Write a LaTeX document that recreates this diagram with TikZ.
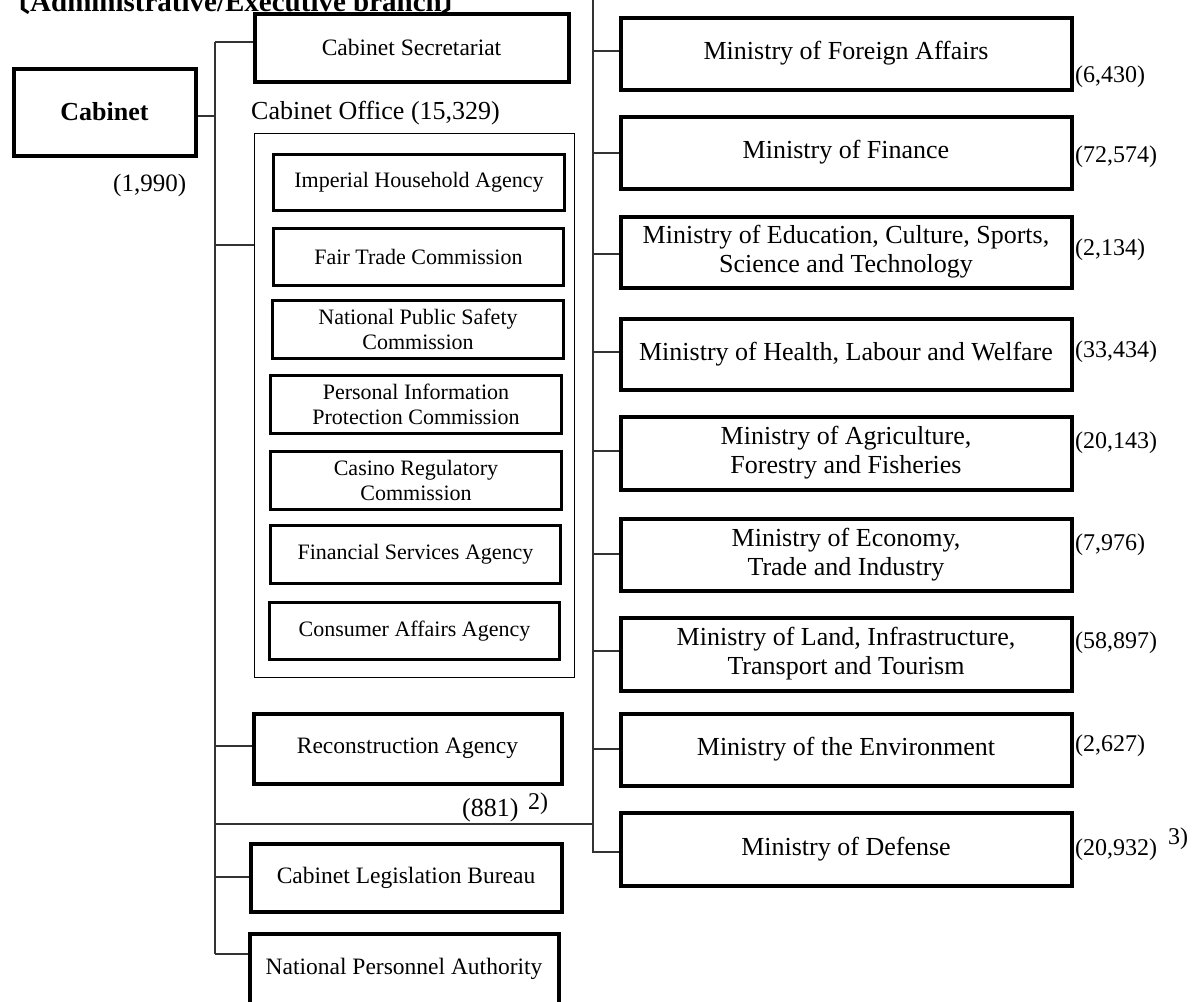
\documentclass[tikz,border=0pt]{standalone}
\usepackage{fontspec}
\setmainfont{Liberation Serif}
\newfontfamily\cjk{Noto Sans CJK JP}
\tikzset{
  box/.style={draw, line width=4pt, inner sep=0pt, align=center, font=\fontsize{23.5}{27}\selectfont},
  inbox/.style={draw, line width=3.6pt, inner sep=0pt, align=center, font=\fontsize{22}{25}\selectfont},
  minbox/.style={draw, line width=4pt, inner sep=0pt, align=center, font=\fontsize{26}{29}\selectfont},
  cabbox/.style={draw, line width=4pt, inner sep=0pt, align=center, font=\fontsize{26}{29}\selectfont\bfseries},
  thinbox/.style={draw, line width=1.3pt, inner sep=0pt},
  conn/.style={line width=1.3pt, draw=black!80},
  num/.style={inner sep=0pt, anchor=west, font=\fontsize{24}{27}\selectfont},
}
\newcommand\BX[7]{\node[#2, minimum width={#5-#3-3}, minimum height={#6-#4-3}] (#1) at ({(#3+#5)/2},{(#4+#6)/2}) {#7};}
\begin{document}
\begin{tikzpicture}[x=1pt,y=-1pt]
\useasboundingbox (0,0) rectangle (1196,1001);
% title
\node[inner sep=0pt, anchor=base west, font=\fontsize{29}{32}\selectfont\bfseries] (title) at (1,12) {{\cjk 〔}Administrative/Executive branch{\cjk 〕}};
% left column
\BX{cab}{cabbox}{12}{67}{197}{157}{Cabinet}
\BX{secr}{box}{253}{12}{570}{83}{Cabinet Secretariat}
\BX{office}{thinbox}{253}{132}{576}{679}{}
\BX{ihh}{inbox}{272}{153}{566}{212}{Imperial Household Agency}
\BX{ftc}{inbox}{272}{227}{565}{287}{Fair Trade Commission}
\BX{npsc}{inbox}{271}{299}{565}{360}{National Public Safety\\Commission}
\BX{pipc}{inbox}{269}{374}{563}{435}{Personal Information\\Protection Commission}
\BX{crc}{inbox}{269}{450}{563}{511}{Casino Regulatory\\Commission}
\BX{fsa}{inbox}{269}{524}{562}{585}{Financial Services Agency}
\BX{caa}{inbox}{268}{601}{561}{661}{Consumer Affairs Agency}
\BX{rec}{box}{252}{712}{563}{785}{Reconstruction Agency}
\BX{clb}{box}{249}{842}{563}{913}{Cabinet Legislation Bureau}
\BX{npa}{box}{248}{932}{560}{1006}{National Personnel Authority}
% right column
\BX{mofa}{minbox}{619}{16}{1073}{91}{Ministry of Foreign Affairs}
\BX{mof}{minbox}{619}{115}{1073}{190}{Ministry of Finance}
\BX{mext}{minbox}{619}{215}{1073}{289}{Ministry of Education, Culture, Sports,\\Science and Technology}
\BX{mhlw}{minbox}{619}{317}{1073}{391}{Ministry of Health, Labour and Welfare}
\BX{maff}{minbox}{619}{415}{1073}{491}{Ministry of Agriculture,\\Forestry and Fisheries}
\BX{meti}{minbox}{619}{517}{1073}{592}{Ministry of Economy,\\Trade and Industry}
\BX{mlit}{minbox}{619}{616}{1073}{692}{Ministry of Land, Infrastructure,\\Transport and Tourism}
\BX{moe}{minbox}{619}{712}{1073}{787}{Ministry of the Environment}
\BX{mod}{minbox}{619}{811}{1073}{887}{Ministry of Defense}
% labels
\node[num, font=\fontsize{26}{29}\selectfont] (offlbl) at (251,113) {Cabinet Office (15,329)};
\node[num, font=\fontsize{25}{28}\selectfont] (n1990) at (113,185) {(1,990)};
\node[num, font=\fontsize{26}{29}\selectfont] (n881) at (462,810) {(881)};
\node[num] (f2) at (528,804) {2)};
\node[num] (nmofa) at (1075,77) {(6,430)};
\node[num] (nmof) at (1075,157) {(72,574)};
\node[num] (nmext) at (1075,250) {(2,134)};
\node[num] (nmhlw) at (1075,352) {(33,434)};
\node[num] (nmaff) at (1075,443) {(20,143)};
\node[num] (nmeti) at (1075,545) {(7,976)};
\node[num] (nmlit) at (1075,643) {(58,897)};
\node[num] (nmoe) at (1075,746) {(2,627)};
\node[num] (nmod) at (1075,850) {(20,932)};
\node[num] (f3) at (1168,839) {3)};
% left spine
\coordinate (Ltop) at (215,42);
\coordinate (Lcab) at (215,116);
\coordinate (Loff) at (215,245);
\coordinate (Lrec) at (215,746);
\coordinate (Lmid) at (215,824);
\coordinate (Lclb) at (215,877);
\coordinate (Lbot) at (215,954);
\draw[conn] (Ltop) -- (Lbot);
\draw[conn] (Ltop) -- (secr.west |- Ltop);
\draw[conn] (cab.east |- Lcab) -- (Lcab);
\draw[conn] (Loff) -- (office.west |- Loff);
\draw[conn] (Lrec) -- (rec.west |- Lrec);
\draw[conn] (Lclb) -- (clb.west |- Lclb);
\draw[conn] (Lbot) -- (npa.west |- Lbot);
% right spine
\coordinate (Rtop) at (593,-10);
\coordinate (Rmid) at (593,824);
\coordinate (Rbot) at (593,852);
\draw[conn] (Lmid) -- (Rmid);
\draw[conn] (Rtop) -- (Rbot) -- (mod.west |- Rbot);
\foreach \n/\yy in {mofa/51, mof/153, mext/254, mhlw/352, maff/451, meti/554, mlit/651, moe/749}{
  \draw[conn] (593,\yy) -- (\n.west |- 0,\yy);
}
\end{tikzpicture}
\end{document}
